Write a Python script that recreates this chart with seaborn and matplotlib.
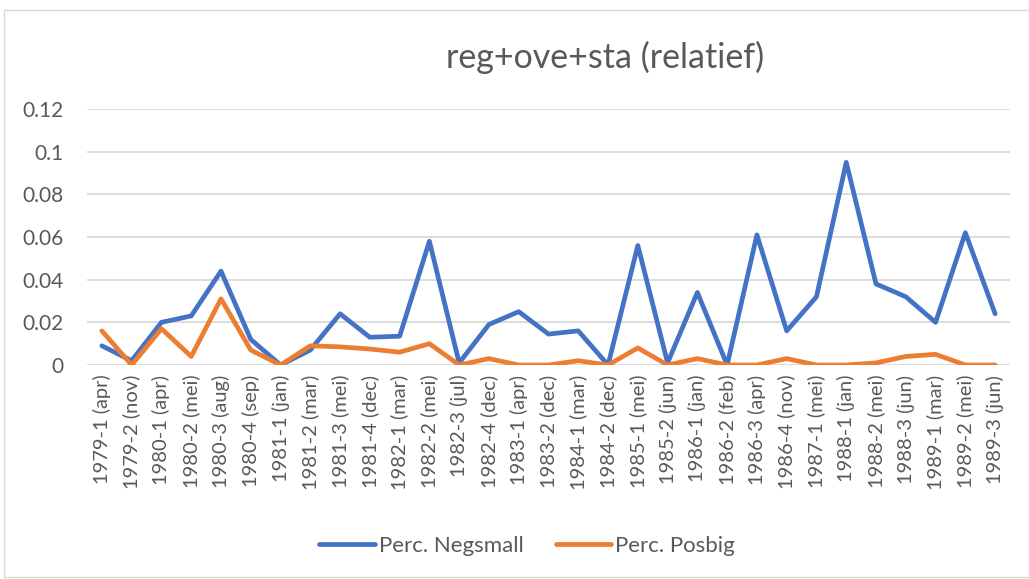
import pandas as pd
import matplotlib
matplotlib.use("Agg")
import matplotlib.pyplot as plt
from matplotlib.patches import Rectangle
import seaborn as sns

# sample moments, in order along the x axis
PERIODS = [
    "1979-1 (apr)", "1979-2 (nov)", "1980-1 (apr)", "1980-2 (mei)", "1980-3 (aug)",
    "1980-4 (sep)", "1981-1 (jan)", "1981-2 (mar)", "1981-3 (mei)", "1981-4 (dec)",
    "1982-1 (mar)", "1982-2 (mei)", "1982-3 (jul)", "1982-4 (dec)", "1983-1 (apr)",
    "1983-2 (dec)", "1984-1 (mar)", "1984-2 (dec)", "1985-1 (mei)", "1985-2 (jun)",
    "1986-1 (jan)", "1986-2 (feb)", "1986-3 (apr)", "1986-4 (nov)", "1987-1 (mei)",
    "1988-1 (jan)", "1988-2 (mei)", "1988-3 (jun)", "1989-1 (mar)", "1989-2 (mei)",
    "1989-3 (jun)",
]

NEGSMALL = [
    0.009, 0.002, 0.020, 0.023, 0.044, 0.012, 0.000, 0.007, 0.024, 0.013,
    0.0135, 0.058, 0.001, 0.019, 0.025, 0.0145, 0.016, 0.000, 0.056, 0.001,
    0.034, 0.000, 0.061, 0.016, 0.032, 0.095, 0.038, 0.032, 0.020, 0.062,
    0.024,
]

POSBIG = [
    0.016, 0.000, 0.017, 0.004, 0.031, 0.007, 0.000, 0.009, 0.0085, 0.0075,
    0.006, 0.010, 0.000, 0.003, 0.000, 0.000, 0.002, 0.000, 0.008, 0.000,
    0.003, 0.000, 0.000, 0.003, 0.000, 0.000, 0.001, 0.004, 0.005, 0.000,
    0.000,
]

SERIES_NAMES = ["Perc. Negsmall", "Perc. Posbig"]
Y_TICKS = [0, 0.02, 0.04, 0.06, 0.08, 0.1, 0.12]
Y_TICK_LABELS = ["0", "0.02", "0.04", "0.06", "0.08", "0.1", "0.12"]

# long form for seaborn
df = pd.DataFrame({
    "period": PERIODS * 2,
    "idx": list(range(len(PERIODS))) * 2,
    "value": NEGSMALL + POSBIG,
    "series": [SERIES_NAMES[0]] * len(PERIODS) + [SERIES_NAMES[1]] * len(PERIODS),
})

sns.set_theme(style="white")
plt.rcParams["font.family"] = ["Lato", "DejaVu Sans"]

TEXT_COL = "#595959"
GRID_COL = "#D9D9D9"

fig = plt.figure(figsize=(10.29, 5.79), dpi=100)
ax = fig.add_axes([87 / 1029, 1 - 365 / 579, (1010 - 87) / 1029, (365 - 109) / 579])

sns.lineplot(
    data=df, x="idx", y="value", hue="series", ax=ax,
    palette=["#4472C4", "#ED7D31"], linewidth=3.4, legend=True,
)

ax.set_xlim(-0.5, len(PERIODS) - 0.5)
ax.set_ylim(0, 0.12)
ax.set_yticks(Y_TICKS)
ax.set_yticklabels(Y_TICK_LABELS)
ax.set_xticks(range(len(PERIODS)))
ax.set_xticklabels(PERIODS, rotation=90)
ax.tick_params(axis="y", labelsize=15, colors=TEXT_COL, length=0, pad=17)
ax.tick_params(axis="x", labelsize=14.5, colors=TEXT_COL, length=0, pad=7)
ax.yaxis.grid(True, color=GRID_COL, linewidth=1.3)
ax.set_axisbelow(True)
for s in ax.spines.values():
    s.set_visible(False)
ax.set_xlabel("")
ax.set_ylabel("")

fig.text(605 / 1029, 1 - 57 / 579, "reg+ove+sta (relatief)", ha="center", va="center",
         fontsize=24.5, color=TEXT_COL)

handles, labels = ax.get_legend_handles_labels()
ax.legend(handles, labels, loc="center", bbox_to_anchor=(527 / 1029, 1 - 546 / 579),
          bbox_transform=fig.transFigure, ncol=2, frameon=False, fontsize=16,
          handlelength=2.5, handletextpad=0.18, columnspacing=1.45,
          labelcolor=TEXT_COL)

# light chart border like the spreadsheet frame
fig.patches.append(Rectangle((4 / 1029, 2 / 579), 1030 / 1029, 567 / 579,
                             transform=fig.transFigure, fill=False,
                             edgecolor=GRID_COL, linewidth=1.0))

fig.savefig("out.png", dpi=100, facecolor="white")
plt.close(fig)
